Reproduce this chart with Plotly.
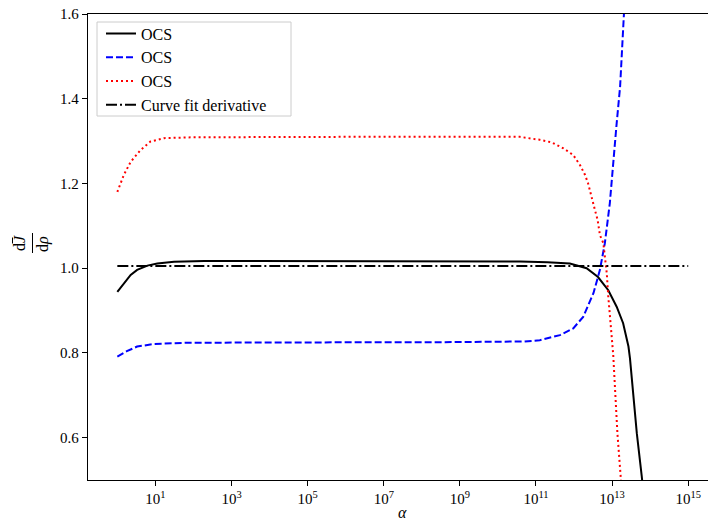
import plotly.graph_objects as go

# ---- data (alpha given as log10 exponents) ----
black_exp = [0, 0.17, 0.35, 0.52, 0.79, 1.05, 1.49, 2.28, 4, 6, 8, 10, 10.58, 11.3, 11.89,
             12.33, 12.63, 12.90, 13.12, 13.29, 13.43, 13.47, 13.65, 13.78, 13.9]
black_val = [0.944, 0.964, 0.984, 0.996, 1.006, 1.011, 1.015, 1.017, 1.017, 1.017, 1.017, 1.017,
             1.016, 1.014, 1.011, 1.000, 0.979, 0.948, 0.909, 0.870, 0.815, 0.787, 0.610, 0.508, 0.40]

blue_exp = [0, 0.25, 0.52, 0.96, 1.84, 4, 6, 8, 10, 10.7, 11.1, 11.63, 11.98, 12.24, 12.51,
            12.68, 12.81, 12.94, 13.12, 13.21, 13.31, 13.4]
blue_val = [0.791, 0.804, 0.815, 0.821, 0.824, 0.825, 0.825, 0.825, 0.826, 0.827, 0.830, 0.842,
            0.858, 0.885, 0.941, 0.996, 1.059, 1.153, 1.342, 1.428, 1.598, 1.75]

red_exp = [0, 0.17, 0.35, 0.61, 0.87, 1.23, 2, 4, 6, 8, 10, 10.58, 11.1, 11.41, 11.72, 11.98,
           12.16, 12.29, 12.37, 12.46, 12.55, 12.62, 12.68, 12.77, 12.86, 12.90, 12.94, 12.99,
           13.03, 13.14, 13.23, 13.3]
red_val = [1.180, 1.220, 1.251, 1.279, 1.299, 1.307, 1.309, 1.310, 1.310, 1.310, 1.310, 1.310,
           1.303, 1.297, 1.283, 1.267, 1.243, 1.220, 1.200, 1.165, 1.137, 1.114, 1.078, 1.059,
           0.988, 0.933, 0.885, 0.838, 0.795, 0.610, 0.508, 0.42]

fit_exp = [0, 15]
fit_val = [1.005, 1.005]

tick_exps = [1, 3, 5, 7, 9, 11, 13, 15]
tick_text = ["10<sup>%d</sup>" % e for e in tick_exps]

FONT = "Liberation Serif"

def pw(exps):
    return [10 ** e for e in exps]

def px_x(p):
    return (p - 88) / 620

def px_y(p):
    return 1 - (p - 14) / 466

fig = go.Figure()
fig.add_trace(go.Scatter(x=pw(black_exp), y=black_val, mode="lines", name="OCS",
                         line=dict(color="black", width=2)))
fig.add_trace(go.Scatter(x=pw(blue_exp), y=blue_val, mode="lines", name="OCS",
                         line=dict(color="#0000ff", width=2, dash="7px,3px")))
fig.add_trace(go.Scatter(x=pw(red_exp), y=red_val, mode="lines", name="OCS",
                         line=dict(color="#ff0000", width=2, dash="2px,3px")))
fig.add_trace(go.Scatter(x=pw(fit_exp), y=fit_val, mode="lines", name="Curve fit derivative",
                         line=dict(color="black", width=2, dash="11px,3px,2px,3px")))

fig.update_layout(
    width=708, height=520,
    margin=dict(l=88, r=0, t=14, b=40),
    plot_bgcolor="white", paper_bgcolor="white",
    font=dict(family=FONT, size=15, color="black"),
    legend=dict(x=px_x(101), y=px_y(16.5), xanchor="left", yanchor="top",
                bgcolor="rgba(0,0,0,0)", borderwidth=0,
                font=dict(family=FONT, size=16), tracegroupgap=0),
    showlegend=True,
)
fig.update_xaxes(type="log", range=[-0.771, 15.52], tickvals=pw(tick_exps), ticktext=tick_text,
                 showgrid=False, zeroline=False, showline=True, linecolor="black", linewidth=1.3,
                 mirror=True, ticks="outside", ticklen=5, tickwidth=1, tickcolor="black",
                 tickfont=dict(family=FONT, size=15))
fig.update_yaxes(range=[0.5, 1.6], tickvals=[0.6, 0.8, 1.0, 1.2, 1.4, 1.6],
                 ticktext=["0.6", "0.8", "1.0", "1.2", "1.4", "1.6"],
                 showgrid=False, zeroline=False, showline=True, linecolor="black", linewidth=1.3,
                 mirror=False, ticks="outside", ticklen=5, tickwidth=1, tickcolor="black",
                 tickfont=dict(family=FONT, size=15))

# legend frame (drawn as a shape so the entries can sit closer to its top)
fig.add_shape(type="rect", xref="paper", yref="paper", x0=px_x(97), x1=px_x(291),
              y0=px_y(116), y1=px_y(22), fillcolor="white", layer="above",
              line=dict(color="#cccccc", width=1))

# axis labels
fig.add_annotation(text="<i>α</i>", xref="paper", yref="paper", x=px_x(402),
                   y=px_y(512), showarrow=False, font=dict(family=FONT, size=16),
                   xanchor="center", yanchor="middle")
fig.add_annotation(text="d<i>J</i>", xref="paper", yref="paper", x=px_x(19), y=px_y(243),
                   showarrow=False, textangle=-90, font=dict(family=FONT, size=16),
                   xanchor="center", yanchor="middle")
fig.add_annotation(text="d<i>ρ</i>", xref="paper", yref="paper", x=px_x(43), y=px_y(244),
                   showarrow=False, textangle=-90, font=dict(family=FONT, size=16),
                   xanchor="center", yanchor="middle")
# fraction bar and macron over J
fig.add_shape(type="line", xref="paper", yref="paper", x0=px_x(32.5), x1=px_x(32.5),
              y0=px_y(253), y1=px_y(233), line=dict(color="black", width=1))
fig.add_shape(type="line", xref="paper", yref="paper", x0=px_x(12.5), x1=px_x(12.5),
              y0=px_y(243.5), y1=px_y(237.5), line=dict(color="black", width=1))

fig.write_html("out.html")
